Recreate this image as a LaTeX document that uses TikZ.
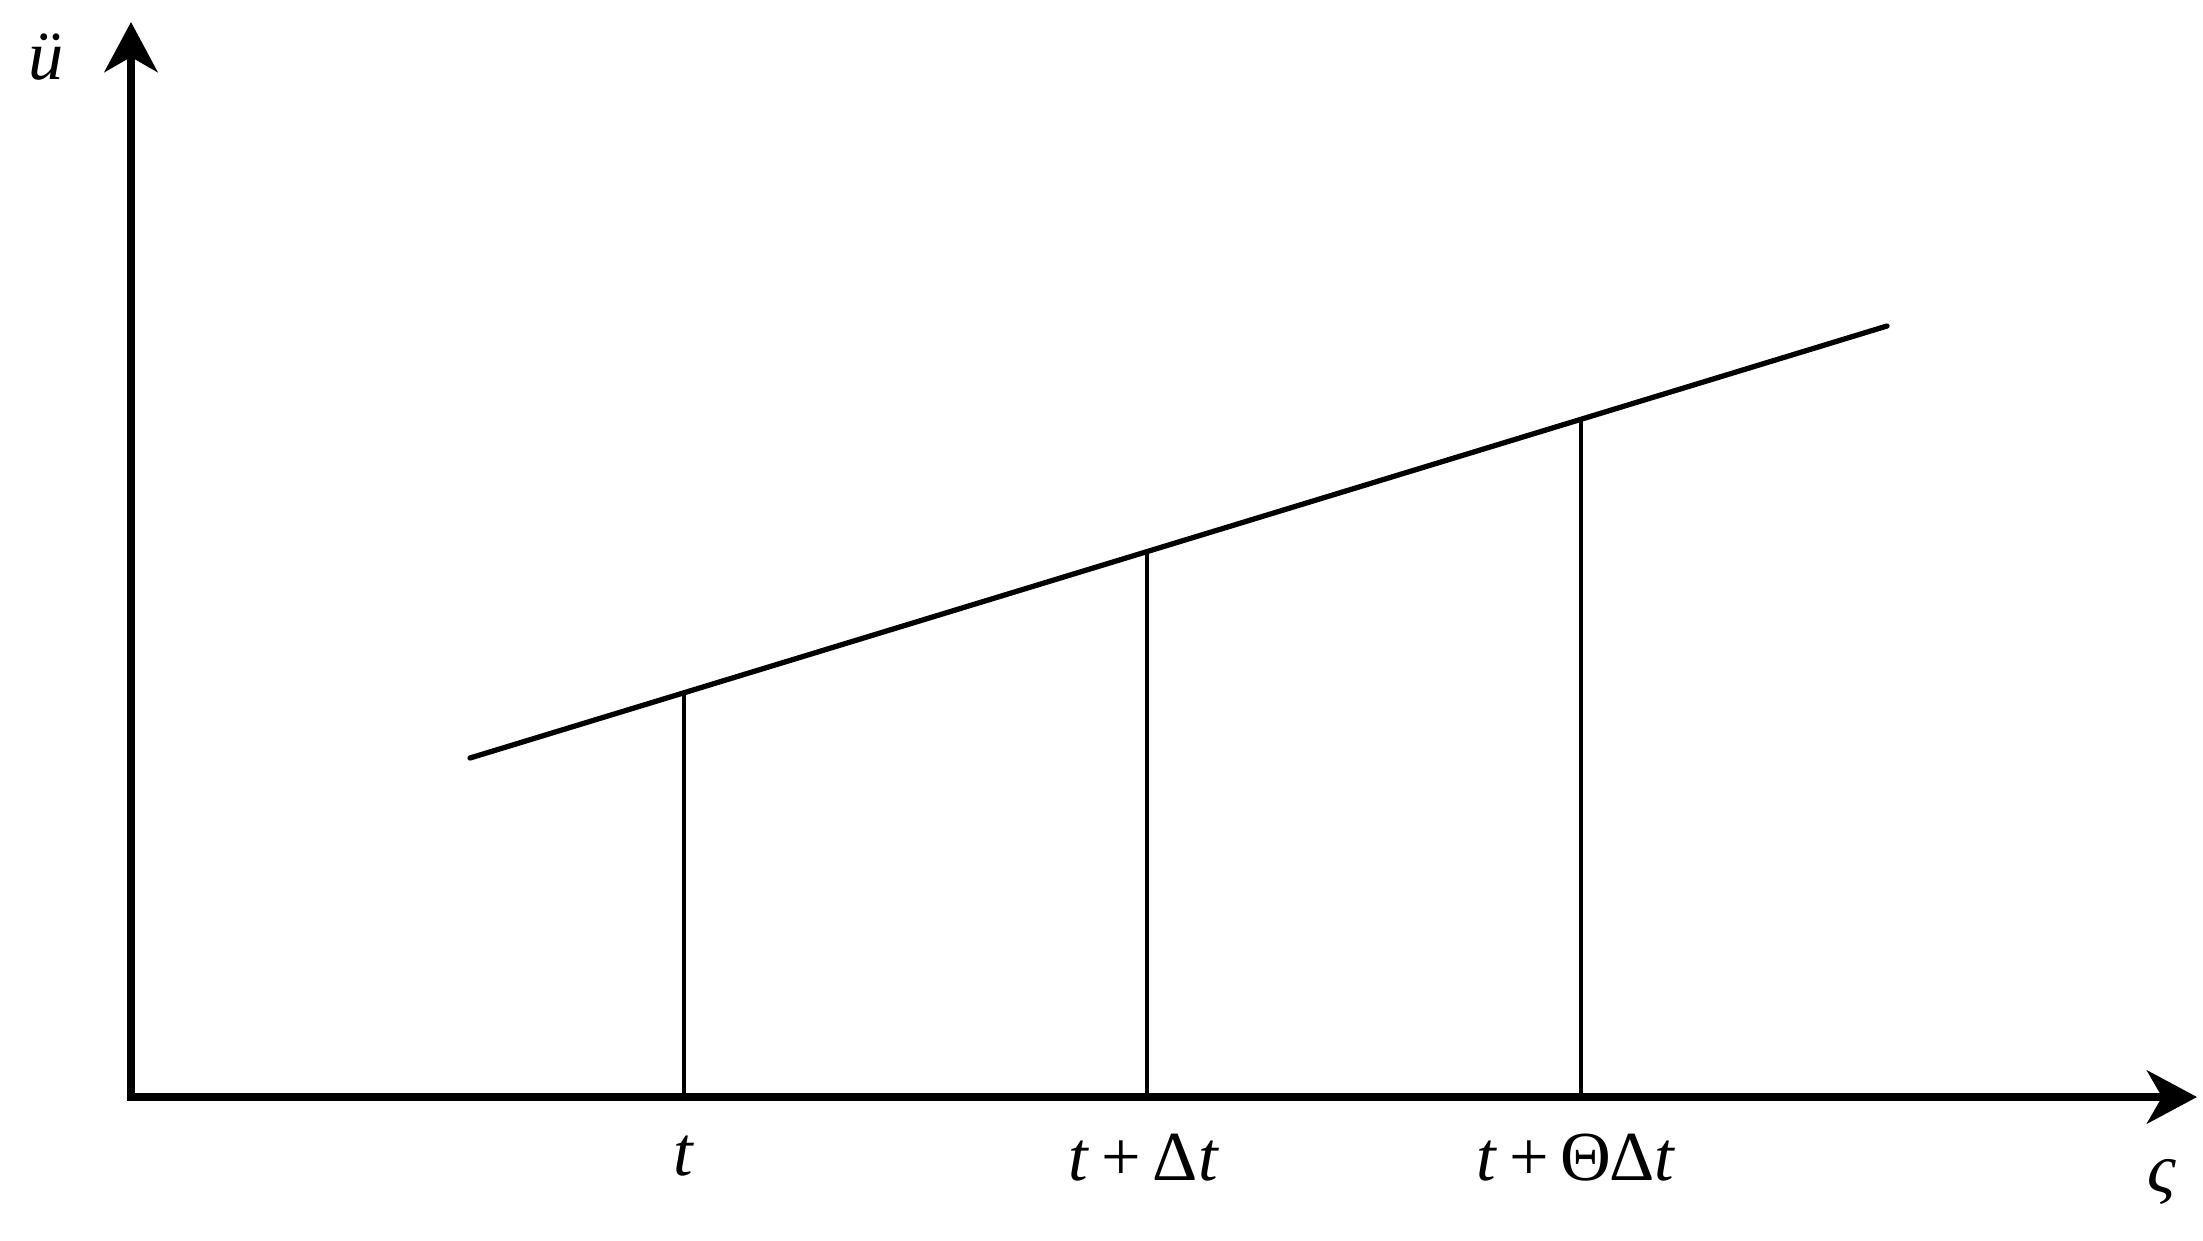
\documentclass[tikz,border=0pt]{standalone}
\usepackage{fontspec}
\setmainfont{Liberation Serif}
\usetikzlibrary{arrows.meta,calc}
\begin{document}
\begin{tikzpicture}[
  axis/.style={line width=2.3pt, line join=miter, {Stealth[length=5mm,width=5.3mm,inset=1.5mm]}-{Stealth[length=5mm,width=5.3mm,inset=1.5mm]}},
  graph/.style={line width=1.5pt, line cap=round},
  tick/.style={line width=1.3pt},
  lbl/.style={font=\fontsize{20}{24}\selectfont, inner sep=0pt, anchor=base}
]
\useasboundingbox (0,0) rectangle (22.03,12.40);
\coordinate (O) at (1.31,1.43);
\coordinate (Ytip) at (1.31,12.18);
\coordinate (Xtip) at (21.97,1.43);
\coordinate (A) at (4.70,4.82);
\coordinate (B) at (18.87,9.14);
\coordinate (P1) at ($(A)!0.1510!(B)$);
\coordinate (P2) at ($(A)!0.4778!(B)$);
\coordinate (P3) at ($(A)!0.7841!(B)$);
\coordinate (F1) at (P1 |- O);
\coordinate (F2) at (P2 |- O);
\coordinate (F3) at (P3 |- O);

\draw[axis] (Ytip) -- (O) -- (Xtip);
\draw[graph] (A) -- (B);
\draw[tick] (P1) -- (F1);
\draw[tick] (P2) -- (F2);
\draw[tick] (P3) -- (F3);

\node[lbl] (lt) at (6.84,0.65) {\textit{t}};
\node[lbl] (ltd) at (11.44,0.60) {\textit{t}\,+\,Δ\textit{t}};
\node[lbl] (ltt) at (15.76,0.60) {\textit{t}\,+\,ΘΔ\textit{t}};
\node[lbl] (lu) at (0.46,11.60) {\textit{ü}};
\node[lbl] (ls) at (21.62,0.48) {\textit{ς}};
\end{tikzpicture}
\end{document}
